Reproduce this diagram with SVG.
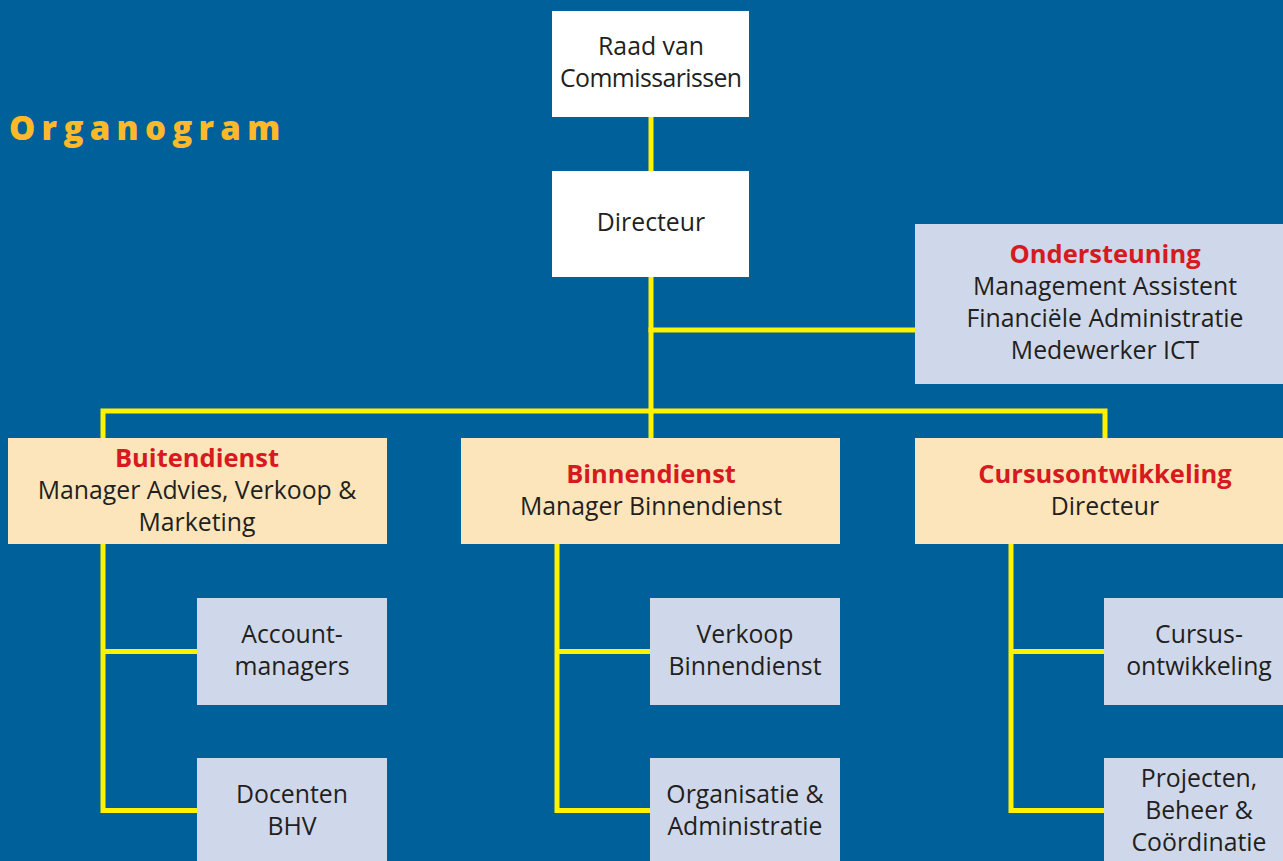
<svg xmlns="http://www.w3.org/2000/svg" width="1283" height="861" viewBox="0 0 1283 861">
<style>
.bg{fill:#00609A}
.w{fill:#FFFFFF}
.lb{fill:#CFD8EA}
.or{fill:#FDE5BB}
.ln{stroke:#FFF200;stroke-width:5;fill:none;stroke-linejoin:miter;stroke-linecap:square}
text{font-family:"Open Sans","Liberation Sans",sans-serif;font-size:24.8px;fill:#231F20;text-anchor:middle}
.h{font-weight:bold;fill:#D71920;font-size:25.5px}
.title{font-weight:800;fill:#FDB92A;font-size:33px;text-anchor:start;letter-spacing:6.3px}
</style>
<rect class="bg" x="0" y="0" width="1283" height="861"/>
<text class="title" x="9" y="140">Organogram</text>
<g id="connectors">
<path class="ln" d="M651 117 V411"/>
<path class="ln" d="M651 330 H915"/>
<path class="ln" d="M103 438 V411 H1105 V438"/>
<path class="ln" d="M651 411 V438"/>
<path class="ln" d="M103 544 V810.5 H197 M103 651.5 H197"/>
<path class="ln" d="M557 544 V810.5 H650 M557 651.5 H650"/>
<path class="ln" d="M1011 544 V810.5 H1104 M1011 651.5 H1104"/>
</g>
<g id="raad"><rect class="w" x="552" y="11" width="197" height="106"/><text x="651" y="55">Raad van</text><text x="651" y="87" textLength="182">Commissarissen</text></g>
<g id="directeur"><rect class="w" x="552" y="171" width="197" height="106"/><text x="651" y="231">Directeur</text></g>
<g id="ondersteuning"><rect class="lb" x="915" y="224" width="379" height="160"/><text class="h" x="1105" y="263">Ondersteuning</text><text x="1105" y="295">Management Assistent</text><text x="1105" y="327">Financiële Administratie</text><text x="1105" y="359">Medewerker ICT</text></g>
<g id="buitendienst"><rect class="or" x="8" y="438" width="379" height="106"/><text class="h" x="197" y="467">Buitendienst</text><text x="197" y="499">Manager Advies, Verkoop &amp;</text><text x="197" y="531">Marketing</text></g>
<g id="binnendienst"><rect class="or" x="461" y="438" width="379" height="106"/><text class="h" x="651" y="483">Binnendienst</text><text x="651" y="515">Manager Binnendienst</text></g>
<g id="cursusontwikkeling"><rect class="or" x="915" y="438" width="379" height="106"/><text class="h" x="1105" y="483">Cursusontwikkeling</text><text x="1105" y="515">Directeur</text></g>
<g id="accountmanagers"><rect class="lb" x="197" y="598" width="190" height="107"/><text x="292" y="643">Account-</text><text x="292" y="675">managers</text></g>
<g id="docenten"><rect class="lb" x="197" y="758" width="190" height="110"/><text x="292" y="803">Docenten</text><text x="292" y="835">BHV</text></g>
<g id="verkoop"><rect class="lb" x="650" y="598" width="190" height="107"/><text x="745" y="643">Verkoop</text><text x="745" y="675">Binnendienst</text></g>
<g id="organisatie"><rect class="lb" x="650" y="758" width="190" height="110"/><text x="745" y="803">Organisatie &amp;</text><text x="745" y="835">Administratie</text></g>
<g id="cursus"><rect class="lb" x="1104" y="598" width="190" height="107"/><text x="1199" y="643">Cursus-</text><text x="1199" y="675">ontwikkeling</text></g>
<g id="projecten"><rect class="lb" x="1104" y="758" width="190" height="110"/><text x="1199" y="787">Projecten,</text><text x="1199" y="819">Beheer &amp;</text><text x="1199" y="851">Coördinatie</text></g>
</svg>
